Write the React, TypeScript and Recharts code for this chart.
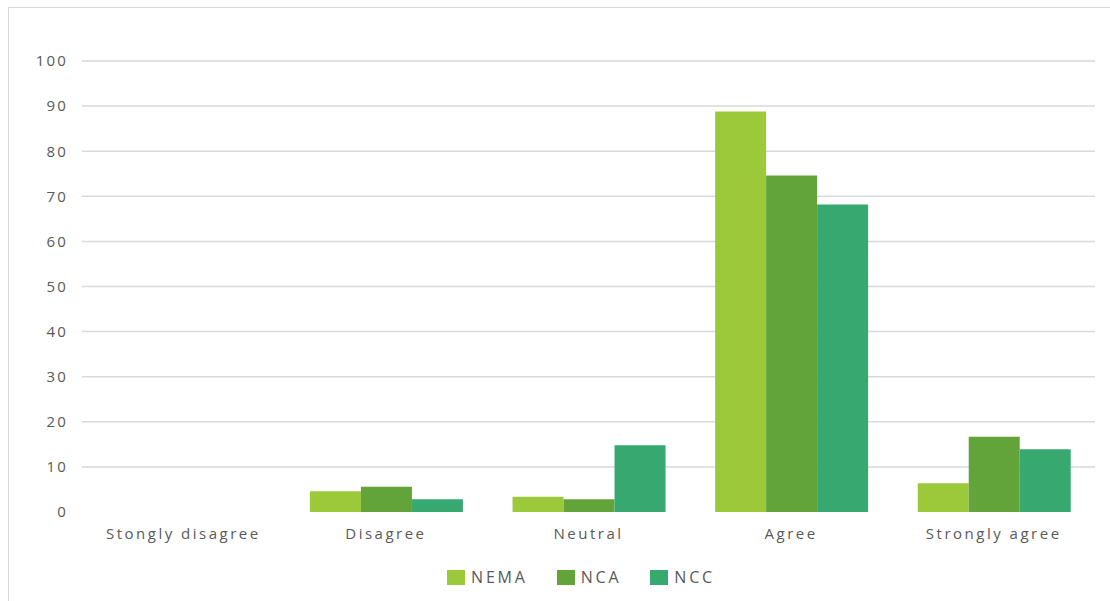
import React from "react";
import { BarChart, Bar, XAxis, YAxis, CartesianGrid, Legend } from "recharts";

const categories = ["Stongly disagree", "Disagree", "Neutral", "Agree", "Strongly agree"];
const nemaValues = [0, 4.6, 3.4, 88.8, 6.4];
const ncaValues = [0, 5.6, 2.8, 74.6, 16.7];
const nccValues = [0, 2.8, 14.8, 68.2, 13.9];
const yTicks = [0, 10, 20, 30, 40, 50, 60, 70, 80, 90, 100];

const series = [
  { key: "NEMA", color: "#9BC93A" },
  { key: "NCA", color: "#62A33A" },
  { key: "NCC", color: "#37A86F" },
];

const data = categories.map((name, i) => ({
  name,
  NEMA: nemaValues[i],
  NCA: ncaValues[i],
  NCC: nccValues[i],
}));

const FONT = "'Open Sans', sans-serif";
const TEXT = "#595959";

function LegendContent() {
  return (
    <div
      style={{
        display: "flex",
        justifyContent: "center",
        alignItems: "center",
        paddingTop: 24,
        paddingLeft: 67,
        fontFamily: FONT,
        fontSize: 16,
        letterSpacing: 2.8,
        color: TEXT,
      }}
    >
      {series.map((s, i) => (
        <div
          key={s.key}
          style={{ display: "flex", alignItems: "center", marginRight: i < series.length - 1 ? 29 : 0 }}
        >
          <span style={{ display: "inline-block", width: 18, height: 15, background: s.color, marginRight: 6 }} />
          <span>{s.key}</span>
        </div>
      ))}
    </div>
  );
}

export default function App() {
  return (
    <div style={{ position: "absolute", left: 0, top: 0, width: 1110, height: 601, background: "#fff" }}>
      <div
        style={{
          position: "absolute",
          left: 8,
          top: 7,
          width: 1110,
          height: 601,
          borderLeft: "1px solid #d9d9d9",
          borderTop: "1px solid #d9d9d9",
        }}
      />
      <div style={{ position: "absolute", left: 0, top: 0 }}>
        <BarChart
          width={1110}
          height={601}
          data={data}
          margin={{ top: 61, right: 15, bottom: 0, left: 0 }}
          barCategoryGap="12.5%"
          barGap={0}
        >
          <CartesianGrid
            vertical={false}
            stroke="#d9d9d9"
            strokeWidth={1.5}
            horizontalValues={[10, 20, 30, 40, 50, 60, 70, 80, 90, 100]}
          />
          <XAxis
            dataKey="name"
            height={30}
            axisLine={false}
            tickLine={false}
            tickMargin={10}
            tick={{ fill: TEXT, fontSize: 15, fontFamily: FONT, letterSpacing: 2.5 }}
          />
          <YAxis
            width={82}
            domain={[0, 100]}
            ticks={yTicks}
            interval={0}
            axisLine={false}
            tickLine={false}
            tickSize={6}
            tickMargin={8}
            tick={{ fill: TEXT, fontSize: 15, fontFamily: FONT, letterSpacing: 2.2 }}
          />
          <Legend verticalAlign="bottom" height={59} content={<LegendContent />} />
          {series.map((s) => (
            <Bar key={s.key} dataKey={s.key} fill={s.color} isAnimationActive={false} />
          ))}
        </BarChart>
      </div>
    </div>
  );
}
